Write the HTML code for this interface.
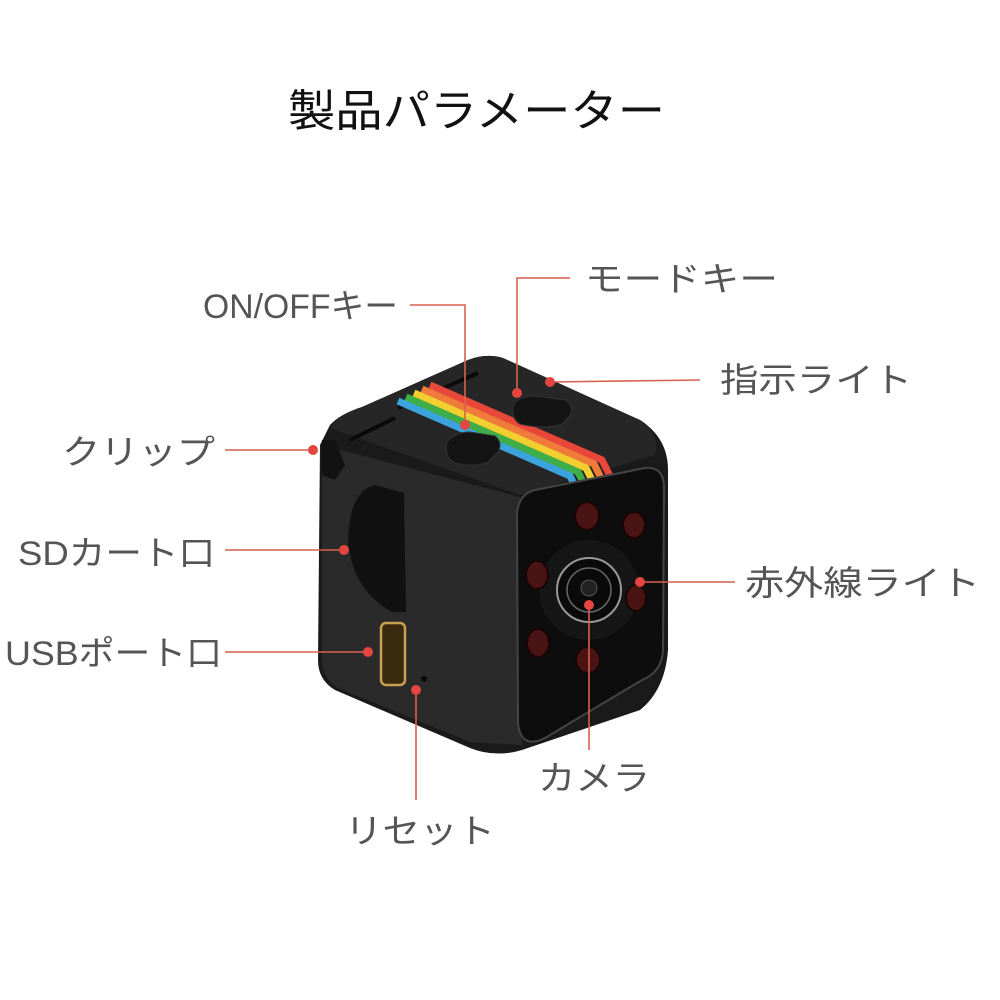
<!DOCTYPE html>
<html><head><meta charset="utf-8"><style>
html,body{margin:0;padding:0;background:#fff;}
svg{display:block;}
.lb{font-family:"Liberation Sans","Noto Sans CJK JP",sans-serif;font-size:34px;fill:#555;}
</style></head><body>
<svg width="1000" height="1000" viewBox="0 0 1000 1000" xmlns="http://www.w3.org/2000/svg">
<rect width="1000" height="1000" fill="#fff"/>
<text x="288" y="126" textLength="377" lengthAdjust="spacingAndGlyphs" style="font-family:'Liberation Sans','Noto Sans CJK JP',sans-serif;font-size:44px;fill:#111">製品パラメーター</text>

<path d="M320,445 L330,425 Q340,414 362,407 L468,360 Q486,353 503,358 L640,420 Q668,438 668,470 L668,650 Q665,690 640,710 L522,750 Q495,758 470,748 L335,690 Q318,680 318,660 Z" fill="#1a1a1a"/>
<path d="M330,428 Q340,414 362,407 L468,360 Q486,353 503,358 L640,420 Q660,432 655,455 L520,495 Z" fill="#262626"/>
<path d="M322,445 L520,497 L522,745 L470,742 L338,688 Q322,678 322,660 Z" fill="#2a2a2a"/>
<path d="M350,440 L395,418" stroke="#0a0a0a" stroke-width="4"/>
<path d="M398,408 L478,373" stroke="#0a0a0a" stroke-width="4"/>
<g stroke-width="7" fill="none" stroke-linejoin="round">
<path d="M430,385 L602,460 L610,476" stroke="#e8473a"/>
<path d="M422,389 L594,464 L602,480" stroke="#f07a3a"/>
<path d="M414,393 L586,468 L594,484" stroke="#f2cf2e"/>
<path d="M406,397 L578,472 L586,488" stroke="#3fae48"/>
<path d="M398,401 L570,476 L578,492" stroke="#3ba4dc"/>
</g>
<path d="M447,442 Q455,432 470,432 L495,436 Q503,442 498,452 L488,462 Q475,468 455,463 Q444,458 447,442 Z" fill="#141414" stroke="#333" stroke-width="1"/>
<path d="M514,404 Q520,396 535,396 L565,400 Q575,405 570,416 L562,424 Q545,430 520,424 Q510,418 514,404 Z" fill="#141414" stroke="#333" stroke-width="1"/>
<path d="M322,440 L335,440 L345,465 L335,480 L322,475 Z" fill="#121212"/>
<path d="M375,485 Q350,490 348,540 Q352,590 392,612 L406,612 L404,493 Z" fill="#111"/>
<rect x="381" y="623" width="24" height="62" rx="5" fill="#3a2a10" stroke="#c9a050" stroke-width="2.5"/>
<circle cx="424" cy="679" r="3" fill="#0a0a0a"/>
<path d="M535,490 L645,468 Q664,466 664,488 L663,650 Q662,672 642,680 L545,738 Q520,750 518,722 L517,515 Q518,494 535,490 Z" fill="#0d0d0d" stroke="#444" stroke-width="2"/>
<circle cx="589" cy="590" r="50" fill="#161616"/>
<circle cx="589" cy="590" r="32" fill="#0a0a0a" stroke="#999" stroke-width="2"/>
<circle cx="589" cy="590" r="22" fill="#0a0a0a" stroke="#666" stroke-width="1.5"/>
<circle cx="589" cy="588" r="8" fill="#222" stroke="#555"/>
<g fill="#4a1414" stroke="#1a0505" stroke-width="2">
<ellipse cx="587" cy="516" rx="12" ry="14"/>
<ellipse cx="634" cy="525" rx="11" ry="13"/>
<ellipse cx="537" cy="575" rx="11" ry="14"/>
<ellipse cx="636" cy="598" rx="10" ry="13"/>
<ellipse cx="538" cy="643" rx="11" ry="14"/>
<ellipse cx="588" cy="660" rx="12" ry="13"/>
</g>

<g stroke="#d9604f" stroke-width="1.6" fill="none">
<path d="M410,305 L465,305 L465,425"/>
<path d="M570,278 L517,278 L517,393"/>
<path d="M700,380 L550,382"/>
<path d="M225,450 L313,450"/>
<path d="M225,550 L344,550"/>
<path d="M225,652 L368,652"/>
<path d="M416,690 L416,800"/>
<path d="M589,605 L589,750"/>
<path d="M640,582 L735,582"/>
</g>
<g fill="#e5453f">
<circle cx="465" cy="425" r="5"/>
<circle cx="517" cy="393" r="5"/>
<circle cx="550" cy="382" r="5"/>
<circle cx="313" cy="450" r="5"/>
<circle cx="344" cy="550" r="5"/>
<circle cx="368" cy="652" r="5"/>
<circle cx="416" cy="690" r="5"/>
<circle cx="589" cy="605" r="5"/>
<circle cx="640" cy="582" r="5"/>
</g>

<text class="lb" x="203" y="318" textLength="195" lengthAdjust="spacingAndGlyphs">ON/OFFキー</text>
<text class="lb" x="585" y="291" textLength="193" lengthAdjust="spacingAndGlyphs">モードキー</text>
<text class="lb" x="720" y="392" textLength="192" lengthAdjust="spacingAndGlyphs">指示ライト</text>
<text class="lb" x="62" y="464" textLength="153" lengthAdjust="spacingAndGlyphs">クリップ</text>
<text class="lb" x="18" y="565" textLength="197" lengthAdjust="spacingAndGlyphs">SDカート口</text>
<text class="lb" x="5" y="665" textLength="217" lengthAdjust="spacingAndGlyphs">USBポート口</text>
<text class="lb" x="745" y="595" textLength="235" lengthAdjust="spacingAndGlyphs">赤外線ライト</text>
<text class="lb" x="538" y="790" textLength="112" lengthAdjust="spacingAndGlyphs">カメラ</text>
<text class="lb" x="345" y="843" textLength="150" lengthAdjust="spacingAndGlyphs">リセット</text>
</svg>
</body></html>
